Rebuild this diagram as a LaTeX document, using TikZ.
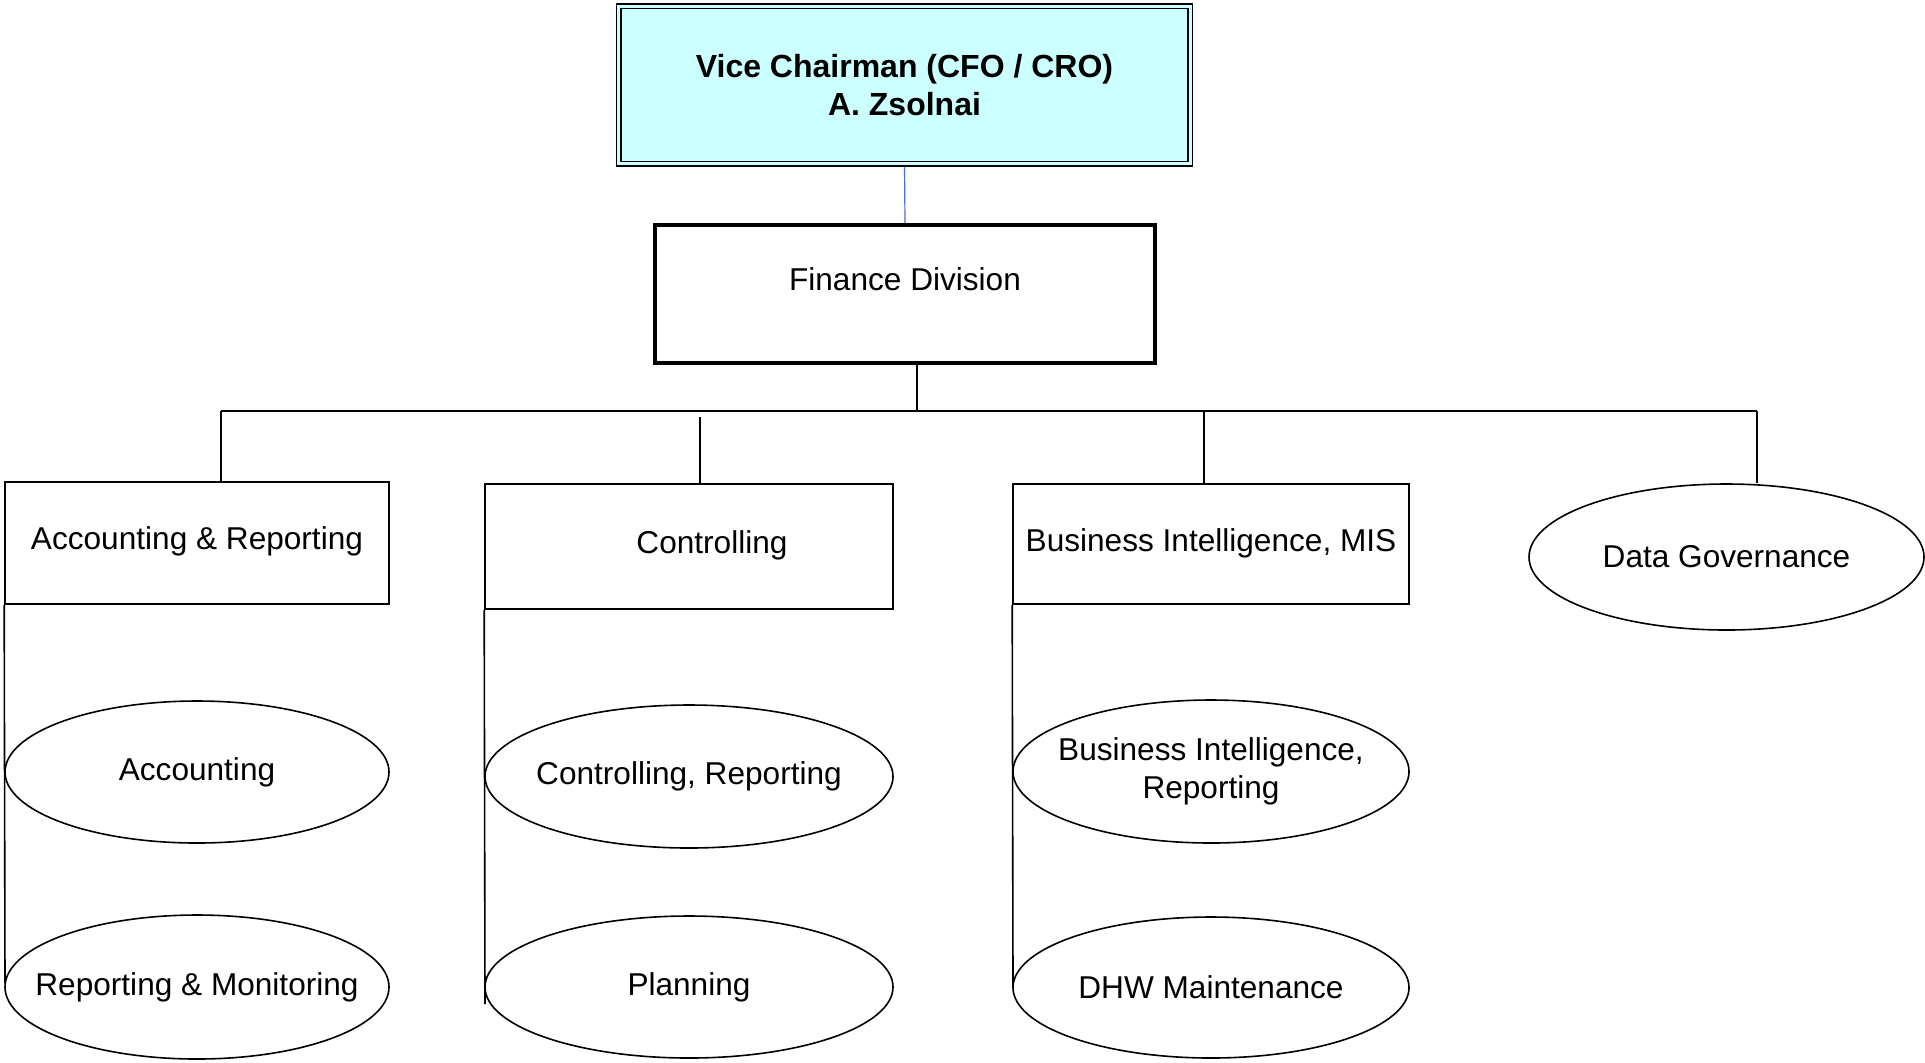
\documentclass[tikz,border=0pt]{standalone}
\usepackage{fontspec}
\setmainfont{Liberation Sans}
\usetikzlibrary{shapes.geometric}
\definecolor{headfill}{HTML}{CCFFFF}
\definecolor{linkblue}{HTML}{4472C4}
\begin{document}
\begin{tikzpicture}[x=0.5pt,y=-0.5pt,
  txt/.style={font=\fontsize{15.8pt}{19pt}\selectfont, align=center},
  unitbox/.style={draw, line width=0.8pt, rectangle, inner sep=0pt, txt},
  unitell/.style={draw, line width=0.8pt, ellipse, inner sep=0pt},
  conn/.style={line width=0.8pt},
]
\useasboundingbox (0,0) rectangle (1925,1062);

% head
\node[draw, line width=0.6pt, fill=headfill, rectangle, inner sep=0pt,
      minimum width=288pt, minimum height=81pt,
      font=\fontsize{16pt}{19pt}\selectfont\bfseries, align=center]
      (top) at (904.5,85) {Vice Chairman (CFO / CRO)\\A. Zsolnai};
\draw[line width=0.8pt] ([shift={(5,5)}]top.north west) rectangle ([shift={(-5,-5)}]top.south east);

% finance division
\node[draw, line width=2.2pt, rectangle, inner sep=0pt, minimum width=250pt, minimum height=69pt]
      (fin) at (905,294) {};
\node[txt] (fintxt) at (905,279) {Finance Division};
\draw[linkblue, line width=0.6pt] (top.south) -- (fin.north);

% units
\node[unitbox, minimum width=192pt, minimum height=61pt] (ar) at (197,543) {};
\node[txt] (artxt) at (197,541) {Accounting \& Reporting};
\node[unitbox, minimum width=204pt, minimum height=62.5pt] (ctrl) at (689,546.5) {};
\node[txt] (ctrltxt) at (712,545) {Controlling};
\node[unitbox, minimum width=198pt, minimum height=60pt] (bi) at (1211,544) {};
\node[txt] (bitxt) at (1211,543) {Business Intelligence, MIS};
\node[unitell, minimum width=197.5pt, minimum height=73pt] (dg) at (1726.5,557) {};
\node[txt] (dgtxt) at (dg.center) {Data Governance};

% sub units
\node[unitell, minimum width=192pt, minimum height=71pt] (acc) at (197,772) {};
\node[txt] (acctxt) at (acc.center) {Accounting};
\node[unitell, minimum width=192pt, minimum height=72pt] (rm) at (197,987) {};
\node[txt] (rmtxt) at (rm.center) {Reporting \& Monitoring};
\node[unitell, minimum width=204pt, minimum height=71.5pt] (cr) at (689,776.5) {};
\node[txt] (crtxt) at (cr.center) {Controlling, Reporting};
\node[unitell, minimum width=204pt, minimum height=71pt] (pl) at (689,987) {};
\node[txt] (pltxt) at (pl.center) {Planning};
\node[unitell, minimum width=198pt, minimum height=71.5pt] (bir) at (1211,771.5) {};
\node[txt] (birtxt) at (bir.center) {Business Intelligence,\\Reporting};
\node[unitell, minimum width=198pt, minimum height=70.5pt] (dhw) at (1211,987.5) {};
\node[txt] (dhwtxt) at (dhw.center) {DHW Maintenance};

% bus
\coordinate (finout) at (917,294);
\coordinate (busL) at (221,411);
\coordinate (busR) at (1757,411);
\coordinate (ctrlin) at (700,417);
\coordinate (biin) at (1204,411);
\draw[conn] (finout |- fin.south) -- (finout |- busL);
\draw[conn] (busL) -- (busR);
\draw[conn] (busL) -- (busL |- ar.north);
\draw[conn] (ctrlin) -- (ctrlin |- ctrl.north);
\draw[conn] (biin) -- (biin |- bi.north);
\draw[conn] (busR) -- (busR |- dg.north);

% side lines
\coordinate (arend) at (5,983);
\coordinate (ctrlend) at (485,1004);
\coordinate (biend) at (1013,988);
\draw[conn] (ar.south west) -- (arend);
\draw[conn] (ctrl.south west) -- (ctrlend);
\draw[conn] (bi.south west) -- (biend);
\end{tikzpicture}
\end{document}
